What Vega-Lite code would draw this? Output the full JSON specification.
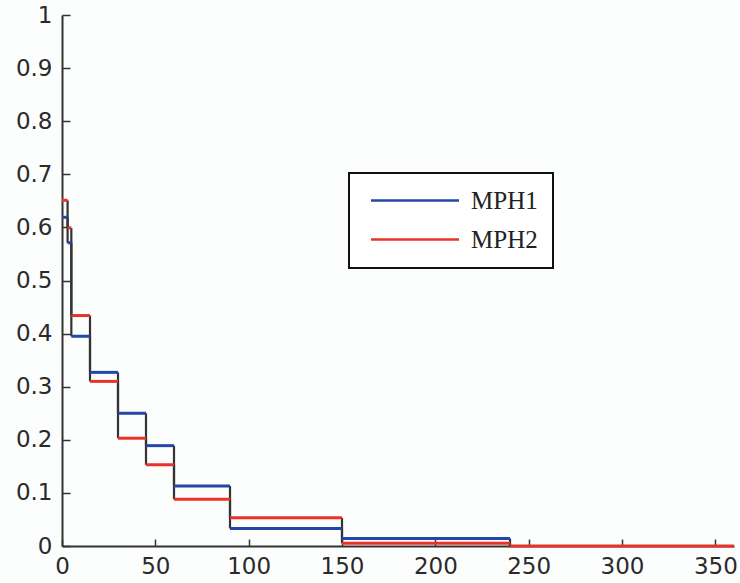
{
  "$schema": "https://vega.github.io/schema/vega-lite/v6.json",
  "autosize": "none",
  "width": 672,
  "height": 531,
  "padding": {"left": 62, "top": 15, "right": 6, "bottom": 37},
  "background": "#fcfdfd",
  "config": {"view": {"stroke": null}},
  "datasets": {
    "h": [
      {"series": "MPH1", "x0": 0, "x1": 3, "y": 0.619},
      {"series": "MPH1", "x0": 3, "x1": 5, "y": 0.571},
      {"series": "MPH1", "x0": 5, "x1": 15, "y": 0.395},
      {"series": "MPH1", "x0": 15, "x1": 30, "y": 0.327},
      {"series": "MPH1", "x0": 30, "x1": 45, "y": 0.25},
      {"series": "MPH1", "x0": 45, "x1": 60, "y": 0.189},
      {"series": "MPH1", "x0": 60, "x1": 90, "y": 0.113},
      {"series": "MPH1", "x0": 90, "x1": 150, "y": 0.033},
      {"series": "MPH1", "x0": 150, "x1": 240, "y": 0.014},
      {"series": "MPH2", "x0": 0, "x1": 3, "y": 0.651},
      {"series": "MPH2", "x0": 3, "x1": 5, "y": 0.599},
      {"series": "MPH2", "x0": 5, "x1": 15, "y": 0.434},
      {"series": "MPH2", "x0": 15, "x1": 30, "y": 0.31},
      {"series": "MPH2", "x0": 30, "x1": 45, "y": 0.203},
      {"series": "MPH2", "x0": 45, "x1": 60, "y": 0.153},
      {"series": "MPH2", "x0": 60, "x1": 90, "y": 0.088},
      {"series": "MPH2", "x0": 90, "x1": 150, "y": 0.053},
      {"series": "MPH2", "x0": 150, "x1": 240, "y": 0.005},
      {"series": "MPH2", "x0": 240, "x1": 360, "y": 0}
    ],
    "v": [
      {"series": "MPH1", "x": 3, "y0": 0.619, "y1": 0.571},
      {"series": "MPH1", "x": 5, "y0": 0.571, "y1": 0.395},
      {"series": "MPH1", "x": 15, "y0": 0.395, "y1": 0.327},
      {"series": "MPH1", "x": 30, "y0": 0.327, "y1": 0.25},
      {"series": "MPH1", "x": 45, "y0": 0.25, "y1": 0.189},
      {"series": "MPH1", "x": 60, "y0": 0.189, "y1": 0.113},
      {"series": "MPH1", "x": 90, "y0": 0.113, "y1": 0.033},
      {"series": "MPH1", "x": 150, "y0": 0.033, "y1": 0.014},
      {"series": "MPH1", "x": 240, "y0": 0.014, "y1": 0},
      {"series": "MPH2", "x": 3, "y0": 0.651, "y1": 0.599},
      {"series": "MPH2", "x": 5, "y0": 0.599, "y1": 0.434},
      {"series": "MPH2", "x": 15, "y0": 0.434, "y1": 0.31},
      {"series": "MPH2", "x": 30, "y0": 0.31, "y1": 0.203},
      {"series": "MPH2", "x": 45, "y0": 0.203, "y1": 0.153},
      {"series": "MPH2", "x": 60, "y0": 0.153, "y1": 0.088},
      {"series": "MPH2", "x": 90, "y0": 0.088, "y1": 0.053},
      {"series": "MPH2", "x": 150, "y0": 0.053, "y1": 0.005},
      {"series": "MPH2", "x": 240, "y0": 0.005, "y1": 0}
    ]
  },
  "layer": [
    {
      "data": {"name": "v"},
      "mark": {"type": "rule", "color": "#333333", "strokeWidth": 2.2},
      "encoding": {
        "x": {"field": "x", "type": "quantitative", "scale": {"domain": [0, 360], "nice": false}},
        "y": {"field": "y0", "type": "quantitative", "scale": {"domain": [0, 1], "nice": false}},
        "y2": {"field": "y1"}
      }
    },
    {
      "data": {"name": "h"},
      "mark": {"type": "rule", "strokeWidth": 3},
      "encoding": {
        "x": {
          "field": "x0", "type": "quantitative",
          "scale": {"domain": [0, 360], "nice": false},
          "axis": {
            "title": null, "values": [0, 50, 100, 150, 200, 250, 300, 350],
            "domainColor": "#333333", "domainWidth": 2,
            "tickColor": "#333333", "tickSize": -7, "tickWidth": 1.5,
            "labelFont": "DejaVu Sans", "labelFontSize": 23, "labelColor": "#2a2a2a",
            "labelPadding": 16, "grid": false, "labelFlush": false
          }
        },
        "x2": {"field": "x1"},
        "y": {
          "field": "y", "type": "quantitative",
          "scale": {"domain": [0, 1], "nice": false},
          "axis": {
            "title": null, "values": [0, 0.1, 0.2, 0.3, 0.4, 0.5, 0.6, 0.7, 0.8, 0.9, 1],
            "format": "~g",
            "domainColor": "#333333", "domainWidth": 2,
            "tickColor": "#333333", "tickSize": -8, "tickWidth": 1.5,
            "labelFont": "DejaVu Sans", "labelFontSize": 23, "labelColor": "#2a2a2a",
            "labelPadding": 18, "grid": false, "labelFlush": false
          }
        },
        "color": {
          "field": "series", "type": "nominal",
          "scale": {"domain": ["MPH1", "MPH2"], "range": ["#2346a8", "#ea3328"]},
          "legend": {
            "title": null, "orient": "none", "legendX": 287, "legendY": 158,
            "symbolType": "M-0.5,0H7.5", "symbolSize": 484, "symbolStrokeWidth": 2.5,
            "labelFont": "Liberation Serif", "labelFontSize": 25, "labelColor": "#222222",
            "labelOffset": 82, "strokeColor": "#111111",
            "fillColor": "#ffffff", "padding": 15, "rowPadding": 13,
            "encode": {"legend": {"update": {"strokeWidth": {"value": 2}}}}
          }
        },
        "order": {"field": "series"}
      }
    }
  ]
}
